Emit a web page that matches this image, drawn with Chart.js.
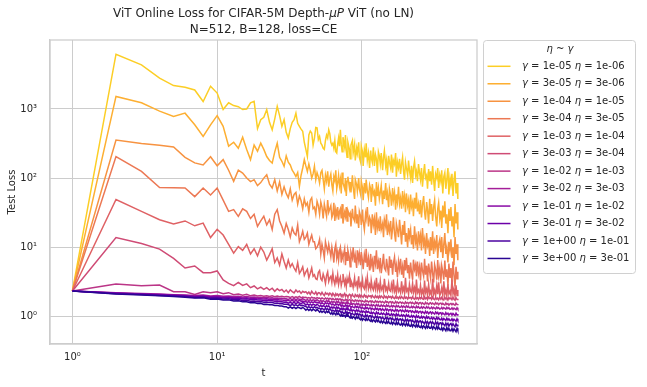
<!DOCTYPE html>
<html>
<head>
<meta charset="utf-8">
<script src="https://cdn.jsdelivr.net/npm/chart.js@4.4.1/dist/chart.umd.min.js"></script>
<style>
  html, body { margin: 0; padding: 0; background: #fff; }
  canvas { display: block; }
</style>
</head>
<body>
<canvas id="chart" width="647" height="387"></canvas>
<script>
// step t (x axis), shared by every run
const steps = [
  1, 2, 3, 4, 5, 6, 7, 8, 9, 10,
  11, 12, 13, 14, 15, 16, 17, 18, 19, 20,
  21, 22, 23, 24, 25, 26, 27, 28, 29, 30,
  31, 32, 33, 34, 35, 36, 37, 38, 39, 40,
  41, 42, 43, 44, 45, 46, 47, 48, 49, 50,
  51, 52, 53, 54, 55, 56, 57, 58, 59, 60,
  61, 62, 63, 64, 65, 66, 67, 68, 69, 70,
  71, 72, 73, 74, 76, 77, 78, 79, 80, 82,
  83, 84, 86, 87, 89, 90, 92, 93, 95, 96,
  98, 99, 101, 102, 104, 106, 107, 109, 111, 113,
  115, 116, 118, 120, 122, 124, 126, 128, 130, 132,
  134, 136, 139, 141, 143, 146, 148, 150, 153, 155,
  158, 160, 163, 165, 168, 171, 173, 176, 179, 182,
  185, 188, 191, 194, 197, 200, 203, 207, 210, 213,
  217, 220, 224, 227, 231, 235, 238, 242, 246, 250,
  254, 258, 262, 267, 271, 275, 280, 284, 289, 294,
  298, 303, 308, 313, 318, 323, 329, 334, 339, 345,
  351, 356, 362, 368, 374, 380, 386, 393, 399, 406,
  412, 419, 426, 433, 440, 447, 454, 460
];

const gammaLabels = ['1e-05', '3e-05', '1e-04', '3e-04', '1e-03', '3e-03', '1e-02', '3e-02', '1e-01', '3e-01', '1e+00', '3e+00'];
const etaLabels = ['1e-06', '3e-06', '1e-05', '3e-05', '1e-04', '3e-04', '1e-03', '3e-03', '1e-02', '3e-02', '1e-01', '3e-01'];
const lineColors = ['#fcce25', '#fdaf32', '#f79341', '#ec7854', '#df6164', '#cf4b75',
                    '#bb3587', '#a41e99', '#8909a5', '#6c00a8', '#4b03a0', '#2a0593'];

const xTickVals = [1, 10, 100];
const xTickLabels = ['10\u2070', '10\u00b9', '10\u00b2'];
const yTickVals = [1, 10, 100, 1000];
const yTickLabels = ['10\u2070', '10\u00b9', '10\u00b2', '10\u00b3'];

// test loss per run, same order as the legend
const lossG1e05 = [
  2.33, 6200, 4350, 2800, 2180, 2060, 1880, 1280, 2130, 1700,
  980, 1230, 1120, 1080, 980, 1000, 1230, 1290, 520, 700,
  760, 980, 640, 500, 720, 1090, 800, 560, 700, 460,
  380, 520, 640, 700, 870, 620, 560, 510, 475, 330,
  260, 205, 420, 480, 450, 300, 380, 540, 535, 360,
  400, 320, 300, 270, 260, 350, 420, 380, 500, 440,
  330, 300, 320, 270, 350, 240, 230, 310, 380, 290,
  500, 310, 240, 390, 280, 420, 250, 200, 330, 260,
  190, 300, 350, 230, 310, 180, 270, 230, 330, 200,
  170, 290, 240, 150, 260, 200, 320, 180, 230, 140,
  250, 200, 170, 280, 150, 220, 190, 120, 240, 210,
  160, 230, 130, 200, 250, 150, 180, 110, 210, 170,
  140, 220, 120, 180, 160, 230, 105, 170, 140, 190,
  115, 160, 200, 125, 95, 170, 140, 110, 180, 130,
  100, 150, 85, 140, 175, 110, 125, 90, 160, 120,
  95, 140, 75, 120, 160, 100, 110, 70, 135, 90,
  125, 80, 150, 95, 65, 115, 100, 140, 72, 110,
  90, 130, 60, 105, 120, 70, 95, 140, 58, 100,
  80, 115, 55, 95, 125, 60, 85, 50
];
const lossG3e05 = [
  2.33, 1520, 1230, 930, 780, 870, 590, 400, 590, 800,
  560, 290, 330, 270, 390, 260, 185, 300, 245, 320,
  260, 205, 180, 165, 240, 320, 200, 175, 148, 210,
  170, 155, 130, 118, 105, 120, 76, 110, 140, 185,
  150, 125, 160, 130, 100, 115, 148, 95, 120, 105,
  85, 120, 130, 95, 70, 110, 90, 125, 75, 100,
  115, 80, 65, 105, 92, 130, 70, 85, 110, 78,
  95, 60, 120, 85, 70, 100, 55, 90, 105, 72,
  88, 62, 110, 75, 50, 95, 80, 65, 100, 70,
  58, 90, 72, 48, 85, 60, 95, 66, 52, 80,
  70, 45, 82, 58, 64, 40, 88, 55, 72, 50,
  62, 78, 42, 66, 50, 85, 48, 60, 38, 70,
  56, 40, 72, 48, 62, 35, 58, 45, 75, 42,
  52, 36, 65, 44, 55, 32, 60, 40, 48, 30,
  58, 38, 45, 28, 52, 36, 62, 33, 42, 30,
  48, 27, 40, 55, 32, 25, 45, 35, 22, 50,
  30, 42, 24, 38, 48, 28, 20, 36, 44, 26,
  34, 19, 40, 27, 46, 22, 30, 16, 36, 24,
  38, 20, 28, 14, 42, 22, 32, 18
];
const lossG1e04 = [
  2.33, 355, 316, 298, 282, 200, 166, 155, 204, 151,
  185, 130, 90, 130, 118, 100, 89, 95, 78, 86,
  100, 112, 82, 72, 95, 65, 88, 58, 75, 60,
  52, 70, 48, 58, 62, 42, 55, 47, 36, 50,
  40, 44, 32, 48, 52, 36, 38, 30, 46, 40,
  30, 45, 38, 26, 42, 34, 28, 48, 32, 36,
  40, 27, 30, 44, 24, 35, 29, 38, 25, 33,
  36, 26, 42, 22, 32, 28, 38, 24, 34, 29,
  31, 20, 36, 27, 24, 40, 22, 30, 19, 33,
  28, 21, 35, 24, 18, 30, 26, 38, 20, 27,
  24, 16, 30, 21, 26, 15, 32, 19, 23, 17,
  28, 18, 22, 14, 25, 20, 30, 15, 21, 17,
  24, 13, 19, 27, 16, 12, 22, 18, 14, 25,
  17, 11, 21, 15, 24, 12, 16, 10, 19, 14,
  18, 11, 15, 9.5, 20, 12, 14, 9, 17, 12,
  15, 9, 19, 11, 13, 8, 16, 10.5, 12, 7.5,
  14, 9, 17, 8, 12, 10, 15, 7, 11, 13,
  8.5, 14, 7, 11, 16, 8, 10, 6, 12, 9,
  13, 7, 10, 5.5, 14, 8, 11, 6.5
];
const lossG3e04 = [
  2.33, 205, 125, 73, 72.5, 72, 54, 72, 57, 72,
  48, 33, 35, 28, 36, 33, 26, 30, 20, 24,
  28, 21, 25, 18, 30, 35, 24, 20, 16, 22,
  18, 14, 19, 16, 15, 21, 12, 14, 17, 13,
  14, 16, 11, 13, 15, 12, 12, 9.5, 10, 11,
  13, 8, 11, 9, 7, 12, 10, 8.5, 11, 9,
  7.3, 10, 8, 6, 9.5, 11, 7, 8.5, 6.5, 9,
  10, 6, 8, 7, 9.5, 5.5, 8.5, 6.5, 9, 7,
  5.2, 8.5, 7, 10, 6, 7.5, 5, 9, 6.5, 8,
  5.5, 8.5, 6.2, 4.8, 7.8, 6, 9.5, 5.2, 7, 4.6,
  8, 5.5, 6.5, 4.4, 7.5, 5.8, 9, 4.8, 6.2, 5,
  7, 4.2, 6, 8, 5, 4.6, 6.8, 5.4, 3.9, 7.4,
  5, 6.6, 4, 5.8, 7.2, 4.4, 5.4, 3.7, 6.2, 4.8,
  6.8, 4, 5.2, 3.6, 6.5, 4.6, 7, 4.2, 5.5, 3.5,
  6, 4.4, 3.4, 6.6, 4.8, 5.6, 3.8, 6.2, 4.2, 5.2,
  3.3, 6, 4.6, 3.8, 6.8, 4, 5.4, 3.2, 5.8, 4.4,
  3.6, 6.2, 4.2, 3.1, 5.6, 4.8, 3.4, 6.5, 3.9, 5,
  3, 5.4, 4.4, 3.4, 6.4, 3.7, 4.8, 2.8, 5.8, 3.6,
  5, 3.1, 6.2, 3.9, 2.7, 5.2, 3.5, 4.4
];
const lossG1e03 = [
  2.33, 49, 33, 25, 21.7, 24, 20.4, 22.3, 13.8, 18.2,
  15, 11, 8.2, 10.2, 9, 11, 8, 9.5, 7.5, 10,
  8.5, 6.5, 7.8, 9.5, 6, 7, 5.5, 8, 6.2, 5,
  6.5, 5.2, 5.8, 5.0, 4.5, 6, 4.2, 4.6, 5.2, 3.9,
  4.4, 4.8, 3.6, 4.2, 5, 3.8, 4, 3.5, 3.4, 4.3,
  4.6, 3.5, 3.3, 4.1, 3.6, 3, 3.9, 4.4, 3.2, 3.6,
  3.8, 3.1, 4.2, 3.3, 2.9, 3.6, 3.2, 4.0, 2.9, 3.4,
  3.7, 2.8, 3.2, 4.1, 2.9, 3.3, 2.7, 3.5, 3.0, 3.9,
  2.7, 3.3, 2.9, 2.6, 3.6, 2.8, 3.1, 2.6, 3.8, 2.7,
  3.0, 2.5, 3.4, 2.7, 2.5, 3.2, 2.6, 3.7, 2.5, 2.9,
  2.5, 3.3, 2.6, 2.4, 3.0, 2.5, 3.6, 2.4, 2.8, 2.4,
  3.2, 2.4, 2.7, 2.3, 3.5, 2.4, 2.6, 2.3, 3.0, 2.4,
  2.3, 2.9, 2.4, 3.4, 2.3, 2.6, 2.2, 3.1, 2.3, 2.5,
  2.2, 3.2, 2.3, 2.6, 2.2, 3.6, 2.3, 2.5, 2.1, 2.9,
  2.3, 2.2, 3.0, 2.2, 2.6, 2.1, 3.4, 2.2, 2.4, 2.1,
  2.8, 2.1, 2.4, 2.0, 3.3, 2.2, 2.5, 2.0, 2.9, 2.1,
  2.3, 2.0, 3.5, 2.1, 2.4, 2.0, 2.8, 2.1, 3.1, 2.0,
  2.2, 2.6, 2.0, 3.2, 2.1, 2.4, 1.95, 2.9, 2.1, 2.3,
  2.0, 3.4, 2.1, 2.5, 1.95, 2.8, 2.0, 2.4
];
const lossG3e03 = [
  2.33, 13.8, 11.3, 9.4, 6.9, 5.0, 5.35, 4.28, 4.28, 4.54,
  3.36, 3.0, 2.78, 3.1, 2.8, 2.95, 2.6, 2.75, 2.5, 2.65,
  2.45, 2.6, 2.4, 2.55, 2.3, 2.5, 2.35, 2.45, 2.25, 2.4,
  2.2, 2.42, 2.28, 2.18, 2.4, 2.25, 2.33, 2.15, 2.3, 2.22,
  2.28, 2.12, 2.25, 2.08, 2.3, 2.16, 2.1, 2.26, 2.05, 2.2,
  2.18, 2.05, 2.22, 2.08, 2.0, 2.2, 2.1, 2.15, 2.02, 2.17,
  2.12, 1.98, 2.15, 2.05, 1.96, 2.13, 2.02, 2.1, 1.97, 2.08,
  2.12, 1.95, 2.06, 1.98, 2.14, 1.94, 2.05, 2.0, 1.92, 2.08,
  2.05, 1.92, 2.08, 1.97, 1.9, 2.06, 1.95, 2.02, 1.89, 2.04,
  1.9, 2.03, 1.93, 1.88, 2.05, 1.92, 1.98, 1.86, 2.01, 1.94,
  1.98, 1.87, 2.0, 1.9, 1.85, 1.99, 1.88, 1.95, 1.84, 1.97,
  1.86, 1.97, 1.88, 1.83, 1.98, 1.87, 1.93, 1.82, 1.96, 1.89,
  1.93, 1.83, 1.95, 1.85, 1.8, 1.94, 1.84, 1.9, 1.8, 1.92,
  1.82, 1.93, 1.84, 1.79, 1.95, 1.83, 1.89, 1.78, 1.91, 1.84,
  1.88, 1.79, 1.92, 1.81, 1.77, 1.9, 1.8, 1.86, 1.76, 1.89,
  1.8, 1.9, 1.79, 1.76, 1.91, 1.8, 1.86, 1.75, 1.89, 1.81,
  1.85, 1.76, 1.9, 1.78, 1.74, 1.88, 1.77, 1.84, 1.73, 1.87,
  1.77, 1.88, 1.76, 1.73, 1.89, 1.78, 1.84, 1.72, 1.87, 1.79,
  1.84, 1.74, 1.88, 1.76, 1.72, 1.86, 1.75, 1.8
];
const lossG1e02 = [
  2.33, 2.94, 2.78, 2.83, 2.27, 2.27, 2.08, 2.27, 2.2, 2.27,
  2.12, 2.2, 2.06, 2.1, 2.02, 2.08, 1.98, 2.04, 1.97, 2.0,
  1.96, 1.99, 1.94, 1.98, 1.93, 1.97, 1.92, 1.95, 1.9, 1.93,
  1.92, 1.87, 1.93, 1.86, 1.91, 1.88, 1.94, 1.85, 1.9, 1.87,
  1.88, 1.83, 1.87, 1.82, 1.89, 1.84, 1.86, 1.8, 1.87, 1.83,
  1.84, 1.78, 1.85, 1.8, 1.77, 1.84, 1.79, 1.83, 1.76, 1.82,
  1.8, 1.74, 1.81, 1.76, 1.73, 1.8, 1.75, 1.79, 1.72, 1.78,
  1.78, 1.7, 1.76, 1.72, 1.69, 1.77, 1.71, 1.75, 1.68, 1.74,
  1.73, 1.66, 1.72, 1.68, 1.64, 1.73, 1.67, 1.71, 1.64, 1.7,
  1.69, 1.62, 1.68, 1.64, 1.61, 1.7, 1.63, 1.67, 1.6, 1.66,
  1.67, 1.6, 1.66, 1.61, 1.58, 1.68, 1.61, 1.65, 1.58, 1.64,
  1.65, 1.58, 1.64, 1.59, 1.56, 1.66, 1.59, 1.63, 1.56, 1.62,
  1.63, 1.56, 1.62, 1.57, 1.54, 1.64, 1.57, 1.61, 1.54, 1.6,
  1.61, 1.54, 1.6, 1.55, 1.52, 1.62, 1.55, 1.59, 1.52, 1.58,
  1.6, 1.53, 1.59, 1.54, 1.51, 1.61, 1.54, 1.58, 1.5, 1.57,
  1.58, 1.51, 1.57, 1.52, 1.49, 1.59, 1.52, 1.56, 1.48, 1.55,
  1.57, 1.5, 1.56, 1.51, 1.48, 1.58, 1.51, 1.55, 1.47, 1.54,
  1.55, 1.48, 1.54, 1.49, 1.46, 1.56, 1.49, 1.53, 1.45, 1.52,
  1.54, 1.47, 1.53, 1.48, 1.45, 1.55, 1.48, 1.51
];
const lossG3e02 = [
  2.33, 2.2, 2.14, 2.1, 2.06, 2.04, 2.0, 2.03, 1.97, 2.0,
  1.95, 1.97, 1.93, 1.95, 1.91, 1.93, 1.89, 1.91, 1.87, 1.88,
  1.86, 1.87, 1.84, 1.85, 1.82, 1.84, 1.81, 1.82, 1.79, 1.8,
  1.76, 1.81, 1.75, 1.8, 1.74, 1.79, 1.77, 1.73, 1.8, 1.75,
  1.7, 1.75, 1.69, 1.74, 1.68, 1.73, 1.71, 1.67, 1.74, 1.69,
  1.64, 1.7, 1.63, 1.69, 1.65, 1.62, 1.7, 1.64, 1.68, 1.61,
  1.59, 1.65, 1.58, 1.64, 1.6, 1.57, 1.65, 1.59, 1.63, 1.56,
  1.54, 1.61, 1.53, 1.59, 1.55, 1.52, 1.6, 1.54, 1.58, 1.51,
  1.49, 1.56, 1.48, 1.54, 1.5, 1.47, 1.55, 1.49, 1.53, 1.46,
  1.45, 1.51, 1.44, 1.5, 1.46, 1.43, 1.51, 1.45, 1.49, 1.42,
  1.42, 1.48, 1.41, 1.47, 1.43, 1.4, 1.48, 1.42, 1.46, 1.39,
  1.4, 1.46, 1.39, 1.45, 1.41, 1.38, 1.46, 1.4, 1.44, 1.37,
  1.38, 1.44, 1.37, 1.43, 1.39, 1.36, 1.44, 1.38, 1.42, 1.35,
  1.36, 1.42, 1.35, 1.41, 1.37, 1.34, 1.42, 1.36, 1.4, 1.33,
  1.34, 1.4, 1.33, 1.39, 1.35, 1.32, 1.4, 1.34, 1.38, 1.31,
  1.32, 1.38, 1.31, 1.37, 1.33, 1.3, 1.38, 1.32, 1.36, 1.29,
  1.3, 1.36, 1.29, 1.35, 1.31, 1.28, 1.36, 1.3, 1.34, 1.27,
  1.29, 1.35, 1.28, 1.34, 1.3, 1.27, 1.35, 1.29, 1.33, 1.26,
  1.27, 1.33, 1.26, 1.32, 1.28, 1.25, 1.33, 1.27
];
const lossG1e01 = [
  2.33, 2.17, 2.11, 2.07, 2.03, 2.01, 1.96, 1.98, 1.92, 1.94,
  1.89, 1.91, 1.86, 1.88, 1.84, 1.86, 1.82, 1.83, 1.79, 1.8,
  1.78, 1.79, 1.76, 1.77, 1.74, 1.75, 1.72, 1.73, 1.7, 1.71,
  1.7, 1.66, 1.71, 1.65, 1.69, 1.64, 1.7, 1.66, 1.67, 1.63,
  1.64, 1.59, 1.63, 1.58, 1.62, 1.57, 1.63, 1.59, 1.6, 1.56,
  1.58, 1.52, 1.57, 1.53, 1.5, 1.58, 1.53, 1.56, 1.5, 1.55,
  1.52, 1.46, 1.51, 1.47, 1.44, 1.52, 1.47, 1.5, 1.44, 1.49,
  1.47, 1.4, 1.46, 1.41, 1.39, 1.46, 1.41, 1.45, 1.38, 1.43,
  1.41, 1.34, 1.4, 1.36, 1.33, 1.41, 1.35, 1.39, 1.32, 1.37,
  1.36, 1.29, 1.35, 1.31, 1.28, 1.36, 1.3, 1.34, 1.27, 1.32,
  1.32, 1.25, 1.31, 1.27, 1.24, 1.32, 1.26, 1.3, 1.23, 1.28,
  1.29, 1.22, 1.28, 1.24, 1.21, 1.29, 1.23, 1.27, 1.2, 1.25,
  1.26, 1.19, 1.25, 1.21, 1.18, 1.26, 1.2, 1.24, 1.17, 1.22,
  1.24, 1.17, 1.23, 1.19, 1.16, 1.24, 1.18, 1.22, 1.15, 1.2,
  1.21, 1.14, 1.2, 1.16, 1.13, 1.21, 1.15, 1.19, 1.12, 1.17,
  1.18, 1.11, 1.17, 1.13, 1.1, 1.18, 1.12, 1.16, 1.09, 1.14,
  1.16, 1.09, 1.15, 1.11, 1.08, 1.16, 1.1, 1.14, 1.07, 1.12,
  1.13, 1.06, 1.12, 1.08, 1.05, 1.13, 1.07, 1.11, 1.04, 1.09,
  1.11, 1.04, 1.1, 1.06, 1.03, 1.11, 1.05, 1.08
];
const lossG3e01 = [
  2.33, 2.15, 2.09, 2.04, 2.0, 1.97, 1.92, 1.94, 1.87, 1.89,
  1.84, 1.86, 1.81, 1.82, 1.78, 1.79, 1.75, 1.76, 1.72, 1.73,
  1.7, 1.71, 1.68, 1.68, 1.65, 1.66, 1.63, 1.63, 1.6, 1.61,
  1.55, 1.6, 1.54, 1.59, 1.53, 1.58, 1.56, 1.52, 1.59, 1.54,
  1.46, 1.51, 1.45, 1.5, 1.44, 1.49, 1.47, 1.43, 1.5, 1.45,
  1.39, 1.44, 1.38, 1.43, 1.4, 1.36, 1.43, 1.38, 1.42, 1.36,
  1.32, 1.37, 1.31, 1.36, 1.33, 1.29, 1.37, 1.31, 1.35, 1.29,
  1.26, 1.31, 1.25, 1.3, 1.27, 1.23, 1.31, 1.25, 1.29, 1.23,
  1.2, 1.25, 1.19, 1.24, 1.21, 1.17, 1.25, 1.19, 1.23, 1.17,
  1.15, 1.2, 1.14, 1.19, 1.16, 1.12, 1.2, 1.14, 1.18, 1.12,
  1.1, 1.15, 1.09, 1.14, 1.11, 1.07, 1.15, 1.09, 1.13, 1.07,
  1.07, 1.12, 1.06, 1.11, 1.08, 1.04, 1.12, 1.06, 1.1, 1.04,
  1.04, 1.09, 1.03, 1.08, 1.05, 1.01, 1.09, 1.03, 1.07, 1.01,
  1.01, 1.06, 1.0, 1.05, 1.02, 0.98, 1.06, 1.0, 1.04, 0.98,
  0.98, 1.03, 0.97, 1.02, 0.99, 0.95, 1.03, 0.97, 1.01, 0.95,
  0.95, 1.0, 0.94, 0.99, 0.96, 0.92, 1.0, 0.94, 0.98, 0.92,
  0.92, 0.97, 0.91, 0.96, 0.93, 0.89, 0.97, 0.91, 0.95, 0.9,
  0.89, 0.94, 0.88, 0.93, 0.9, 0.87, 0.94, 0.88, 0.92, 0.87,
  0.87, 0.92, 0.86, 0.91, 0.88, 0.85, 0.92, 0.87
];
const lossG1e00 = [
  2.33, 2.13, 2.07, 2.01, 1.97, 1.93, 1.88, 1.9, 1.82, 1.84,
  1.78, 1.8, 1.74, 1.75, 1.7, 1.71, 1.66, 1.67, 1.63, 1.64,
  1.6, 1.61, 1.58, 1.58, 1.55, 1.56, 1.52, 1.53, 1.5, 1.5,
  1.48, 1.43, 1.49, 1.44, 1.47, 1.42, 1.48, 1.43, 1.45, 1.41,
  1.39, 1.34, 1.38, 1.33, 1.37, 1.32, 1.38, 1.33, 1.35, 1.31,
  1.31, 1.26, 1.3, 1.27, 1.24, 1.31, 1.26, 1.29, 1.23, 1.28,
  1.24, 1.19, 1.23, 1.2, 1.17, 1.24, 1.19, 1.22, 1.16, 1.21,
  1.18, 1.12, 1.17, 1.13, 1.1, 1.17, 1.12, 1.16, 1.09, 1.14,
  1.12, 1.06, 1.11, 1.07, 1.04, 1.11, 1.06, 1.1, 1.03, 1.08,
  1.06, 1.0, 1.05, 1.01, 0.98, 1.05, 1.0, 1.04, 0.97, 1.02,
  1.02, 0.96, 1.01, 0.97, 0.94, 1.01, 0.96, 1.0, 0.93, 0.98,
  0.98, 0.92, 0.97, 0.93, 0.9, 0.97, 0.92, 0.96, 0.89, 0.94,
  0.95, 0.89, 0.94, 0.9, 0.87, 0.94, 0.89, 0.93, 0.86, 0.91,
  0.92, 0.86, 0.91, 0.87, 0.84, 0.91, 0.86, 0.9, 0.83, 0.88,
  0.89, 0.83, 0.88, 0.84, 0.81, 0.88, 0.83, 0.87, 0.8, 0.85,
  0.86, 0.8, 0.85, 0.81, 0.78, 0.85, 0.8, 0.84, 0.77, 0.82,
  0.84, 0.78, 0.83, 0.79, 0.76, 0.83, 0.78, 0.82, 0.75, 0.8,
  0.81, 0.75, 0.8, 0.76, 0.73, 0.8, 0.75, 0.79, 0.72, 0.77,
  0.79, 0.73, 0.78, 0.74, 0.71, 0.78, 0.73, 0.76
];
const lossG3e00 = [
  2.33, 2.11, 2.04, 1.98, 1.93, 1.89, 1.84, 1.86, 1.77, 1.78,
  1.72, 1.73, 1.67, 1.68, 1.62, 1.63, 1.57, 1.58, 1.53, 1.54,
  1.49, 1.5, 1.47, 1.47, 1.44, 1.44, 1.41, 1.41, 1.38, 1.38,
  1.32, 1.37, 1.31, 1.36, 1.3, 1.35, 1.33, 1.29, 1.35, 1.3,
  1.23, 1.28, 1.22, 1.27, 1.21, 1.26, 1.24, 1.2, 1.26, 1.21,
  1.15, 1.2, 1.14, 1.19, 1.16, 1.12, 1.19, 1.14, 1.18, 1.12,
  1.08, 1.13, 1.07, 1.12, 1.09, 1.05, 1.13, 1.07, 1.11, 1.05,
  1.01, 1.06, 1.0, 1.05, 1.02, 0.98, 1.06, 1.0, 1.04, 0.98,
  0.95, 1.0, 0.94, 0.99, 0.96, 0.92, 1.0, 0.94, 0.98, 0.92,
  0.89, 0.94, 0.88, 0.93, 0.9, 0.87, 0.94, 0.88, 0.92, 0.87,
  0.85, 0.9, 0.84, 0.89, 0.86, 0.83, 0.9, 0.84, 0.88, 0.83,
  0.81, 0.86, 0.8, 0.85, 0.82, 0.79, 0.86, 0.8, 0.84, 0.79,
  0.78, 0.83, 0.77, 0.82, 0.79, 0.76, 0.83, 0.77, 0.81, 0.76,
  0.75, 0.8, 0.74, 0.79, 0.76, 0.73, 0.8, 0.74, 0.78, 0.73,
  0.72, 0.77, 0.71, 0.76, 0.73, 0.7, 0.77, 0.71, 0.75, 0.7,
  0.69, 0.74, 0.68, 0.73, 0.7, 0.67, 0.74, 0.68, 0.72, 0.67,
  0.67, 0.72, 0.66, 0.71, 0.68, 0.65, 0.72, 0.66, 0.7, 0.65,
  0.64, 0.69, 0.63, 0.68, 0.65, 0.62, 0.69, 0.63, 0.67, 0.62,
  0.62, 0.67, 0.61, 0.66, 0.63, 0.6, 0.67, 0.62
];

const runs = [lossG1e05, lossG3e05, lossG1e04, lossG3e04, lossG1e03, lossG3e03,
              lossG1e02, lossG3e02, lossG1e01, lossG3e01, lossG1e00, lossG3e00];

const FONT = '"DejaVu Sans", "Liberation Sans", sans-serif';
const INK = '#262626';
const GRID = '#cccccc';

function fontOf(size, italic) {
  return (italic ? 'italic ' : '') + size + 'px ' + FONT;
}

// draw a run of [text, italic] pieces on one line
function drawPieces(ctx, pieces, x, y, size, align) {
  let w = 0;
  for (const [s, it] of pieces) {
    ctx.font = fontOf(size, it);
    w += ctx.measureText(s).width;
  }
  let cx = align === 'center' ? x - w / 2 : x;
  ctx.textAlign = 'left';
  ctx.textBaseline = 'middle';
  for (const [s, it] of pieces) {
    ctx.font = fontOf(size, it);
    ctx.fillText(s, cx, y);
    cx += ctx.measureText(s).width;
  }
}

const frameAndText = {
  id: 'frameAndText',
  afterDatasetsDraw(chart) {
    const {ctx, chartArea: a} = chart;
    ctx.save();
    ctx.strokeStyle = GRID;
    ctx.lineWidth = 1.25;
    ctx.strokeRect(a.left, a.top, a.right - a.left, a.bottom - a.top);
    ctx.restore();
  },
  afterDraw(chart) {
    const {ctx, chartArea: a} = chart;
    ctx.save();
    ctx.fillStyle = INK;
    const mid = (a.left + a.right) / 2;
    drawPieces(ctx, [['ViT Online Loss for CIFAR-5M Depth-', false], ['\u03bcP', true], [' ViT (no LN)', false]], mid, 14, 12, 'center');
    drawPieces(ctx, [['N=512, B=128, loss=CE', false]], mid, 30, 12, 'center');

    // legend box
    const bx = 483.5, by = 40.5, bw = 152, bh = 233;
    ctx.beginPath();
    ctx.roundRect(bx, by, bw, bh, 3);
    ctx.fillStyle = 'rgba(255,255,255,0.8)';
    ctx.fill();
    ctx.strokeStyle = '#d0d0d0';
    ctx.lineWidth = 1;
    ctx.stroke();

    ctx.fillStyle = INK;
    drawPieces(ctx, [['\u03b7', true], [' ~ ', false], ['\u03b3', true]], 560, 49.5, 10, 'center');

    chart.data.datasets.forEach((ds, i) => {
      const y = 66.3 + i * 17.47;
      ctx.strokeStyle = ds.borderColor;
      ctx.lineWidth = 1.5;
      ctx.beginPath();
      ctx.moveTo(487.5, y);
      ctx.lineTo(510.5, y);
      ctx.stroke();
      ctx.fillStyle = INK;
      drawPieces(ctx, [['\u03b3', true], [' = ' + gammaLabels[i] + ' ', false], ['\u03b7', true], [' = ' + etaLabels[i], false]], 522, y, 10, 'left');
    });
    ctx.restore();
  }
};

const datasets = runs.map((vals, i) => ({
  label: '\u03b3 = ' + gammaLabels[i] + ' \u03b7 = ' + etaLabels[i],
  data: steps.map((t, k) => ({x: t, y: vals[k]})),
  borderColor: lineColors[i],
  borderWidth: 1.5,
  pointRadius: 0,
  tension: 0,
  fill: false,
  order: runs.length - 1 - i
}));

new Chart(document.getElementById('chart'), {
  type: 'line',
  data: {datasets},
  plugins: [frameAndText],
  options: {
    responsive: false,
    animation: false,
    layout: {padding: {left: 0, right: 170, top: 40, bottom: 0}},
    plugins: {
      legend: {display: false},
      title: {display: false},
      tooltip: {enabled: false}
    },
    scales: {
      x: {
        type: 'logarithmic',
        min: 0.737,
        max: 624,
        afterBuildTicks: s => { s.ticks = xTickVals.map(v => ({value: v})); },
        afterFit: s => { s.height = 43; },
        ticks: {
          callback: (v, i) => xTickLabels[i],
          autoSkip: false, maxRotation: 0, padding: 7,
          color: INK, font: {family: FONT, size: 10}
        },
        grid: {color: GRID, lineWidth: 1, drawTicks: false},
        border: {color: GRID, width: 1.25},
        title: {display: true, text: 't', color: INK, font: {family: FONT, size: 10}, padding: {top: 0, bottom: 8}}
      },
      y: {
        type: 'logarithmic',
        min: 0.398,
        max: 9950,
        afterBuildTicks: s => { s.ticks = yTickVals.map(v => ({value: v})); },
        afterFit: s => { s.width = 50; },
        ticks: {
          callback: (v, i) => yTickLabels[i],
          autoSkip: false, padding: 13,
          color: INK, font: {family: FONT, size: 10}
        },
        grid: {color: GRID, lineWidth: 1, drawTicks: false},
        border: {color: GRID, width: 1.25},
        title: {display: true, text: 'Test Loss', color: INK, font: {family: FONT, size: 10}, padding: {top: 6, bottom: 0}}
      }
    }
  }
});
</script>
</body>
</html>
